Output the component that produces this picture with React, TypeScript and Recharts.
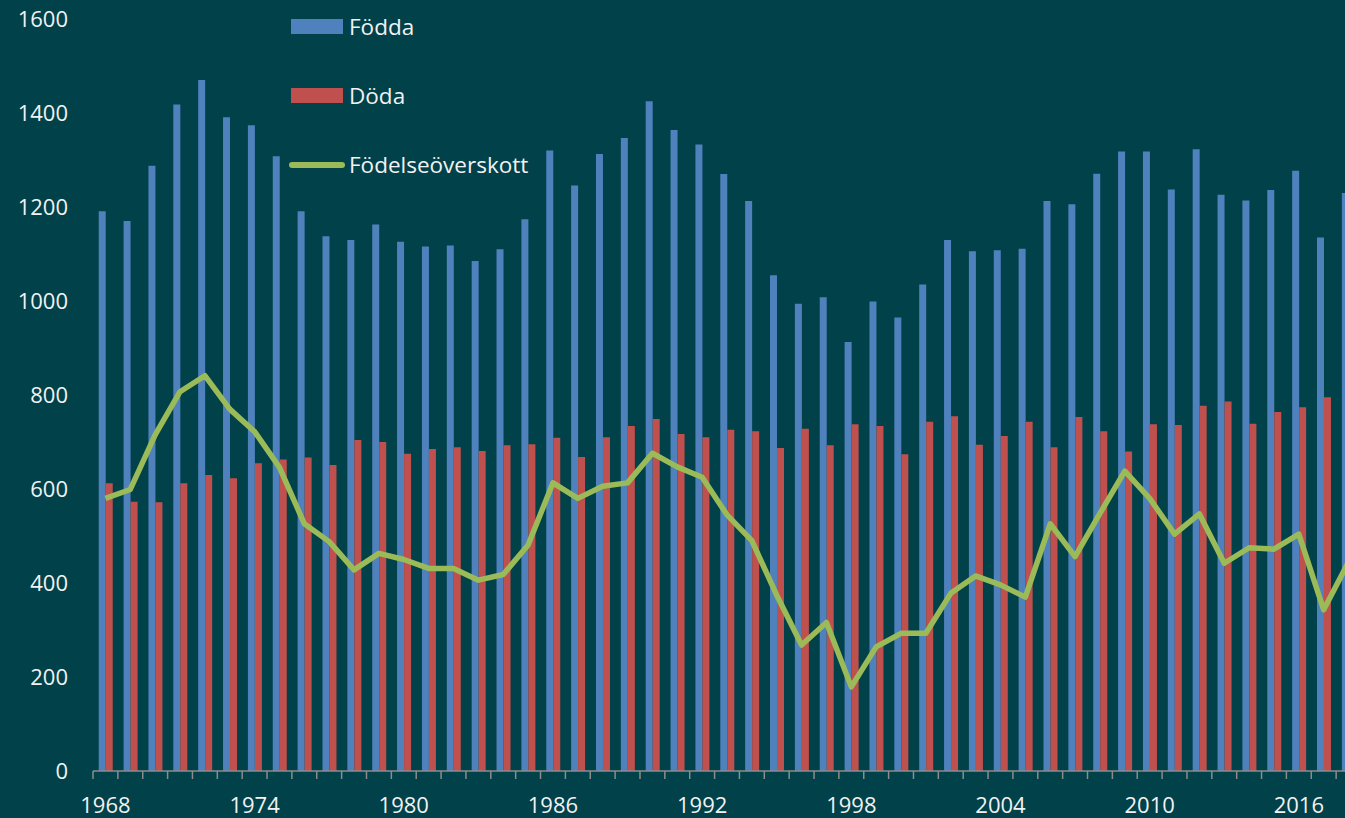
import React from "react";
import { Bar, ComposedChart, Legend, Line, XAxis, YAxis } from "recharts";

const years = [
  "1968", "1969", "1970", "1971", "1972", "1973", "1974", "1975", "1976", "1977",
  "1978", "1979", "1980", "1981", "1982", "1983", "1984", "1985", "1986", "1987",
  "1988", "1989", "1990", "1991", "1992", "1993", "1994", "1995", "1996", "1997",
  "1998", "1999", "2000", "2001", "2002", "2003", "2004", "2005", "2006", "2007",
  "2008", "2009", "2010", "2011", "2012", "2013", "2014", "2015", "2016", "2017",
  "2018",
];

const fodda = [
  1191, 1170, 1288, 1418, 1470, 1391, 1374, 1308, 1191, 1138,
  1130, 1163, 1126, 1116, 1118, 1085, 1110, 1174, 1320, 1246,
  1313, 1347, 1425, 1364, 1333, 1270, 1213, 1055, 994, 1008,
  913, 999, 965, 1035, 1130, 1106, 1108, 1111, 1213, 1206,
  1271, 1318, 1318, 1237, 1323, 1226, 1214, 1236, 1277, 1135,
  1230,
];

const doda = [
  612, 573, 572, 612, 630, 623, 655, 663, 667, 651,
  704, 700, 675, 685, 689, 681, 693, 695, 709, 668,
  710, 734, 749, 717, 710, 726, 723, 687, 728, 693,
  738, 734, 674, 743, 755, 694, 713, 743, 689, 753,
  723, 680, 738, 736, 777, 786, 739, 764, 774, 795,
  790,
];

const overskott = [
  580, 599, 715, 807, 841, 770, 722, 646, 526, 488,
  428, 463, 450, 431, 431, 406, 418, 481, 613, 580,
  606, 613, 676, 647, 625, 545, 490, 374, 268, 316,
  179, 264, 293, 293, 378, 415, 396, 370, 526, 456,
  548, 638, 580, 504, 547, 442, 475, 472, 504, 343,
  445,
];

const yTicks = [0, 200, 400, 600, 800, 1000, 1200, 1400, 1600];
const seriesNames = ["Födda", "Döda", "Födelseöverskott"];

const data = years.map((year, i) => ({
  year,
  fodda: fodda[i],
  doda: doda[i],
  overskott: overskott[i],
}));

const BG = "#00414A";
const TEXT = "#F2F2F2";
const FONT = "'Open Sans', sans-serif";

const XTick = (props: any) => {
  const { x, y, payload, index } = props;
  const half = payload && payload.offset ? payload.offset : 12.43;
  const left = x - half;
  return (
    <g>
      <line x1={left} y1={y} x2={left} y2={y + 8} stroke="#8C8C8C" strokeWidth={1.5} />
      {index % 6 === 0 && (
        <text x={x} y={y + 42} textAnchor="middle" fill={TEXT} fontSize={22} fontFamily={FONT}>
          {payload.value}
        </text>
      )}
    </g>
  );
};

const LegendContent = (props: any) => {
  const items = [...(props.payload || [])].sort(
    (a: any, b: any) => seriesNames.indexOf(a.value) - seriesNames.indexOf(b.value)
  );
  const tops = [19, 88, 157];
  return (
    <div style={{ position: "relative", width: 280, height: 180, fontFamily: FONT }}>
      {items.map((entry: any, i: number) => (
        <div
          key={entry.value}
          style={{
            position: "absolute",
            left: 0,
            top: tops[i] - 8,
            height: 31,
            display: "flex",
            alignItems: "center",
            whiteSpace: "nowrap",
          }}
        >
          {entry.type === "line" ? (
            <div style={{ width: 56, height: 6, borderRadius: 3, background: entry.color }} />
          ) : (
            <div style={{ width: 52, height: 15, margin: "0 2px", background: entry.color }} />
          )}
          <span style={{ color: TEXT, fontSize: 22.5, marginLeft: 4 }}>{entry.value}</span>
        </div>
      ))}
    </div>
  );
};

export default function App() {
  return (
    <div
      style={{
        position: "fixed",
        left: 0,
        top: 0,
        width: 1345,
        height: 818,
        overflow: "hidden",
        background: BG,
      }}
    >
      <ComposedChart
        width={1361}
        height={818}
        data={data}
        margin={{ top: 19, right: 0, left: 0, bottom: 0 }}
        barCategoryGap="23%"
        barGap={0}
      >
        <XAxis
          dataKey="year"
          height={47}
          interval={0}
          tickSize={0}
          tickMargin={0}
          tickLine={false}
          axisLine={{ stroke: "#8C8C8C", strokeWidth: 1.5 }}
          tick={<XTick />}
        />
        <YAxis
          width={93}
          domain={[0, 1600]}
          ticks={yTicks}
          interval={0}
          axisLine={false}
          tickLine={false}
          tickSize={0}
          tickMargin={25}
          tick={{ fill: TEXT, fontSize: 22, fontFamily: FONT }}
        />
        <Legend
          layout="vertical"
          verticalAlign="middle"
          align="center"
          content={<LegendContent />}
          wrapperStyle={{ position: "absolute", left: 289, top: 0, width: 280, height: 180 }}
        />
        <Bar dataKey="fodda" name="Födda" fill="#4F81BD" isAnimationActive={false} />
        <Bar dataKey="doda" name="Döda" fill="#C0504D" isAnimationActive={false} />
        <Line
          dataKey="overskott"
          name="Födelseöverskott"
          type="linear"
          stroke="#9BBB59"
          strokeWidth={5.5}
          strokeLinejoin="round"
          dot={false}
          isAnimationActive={false}
        />
      </ComposedChart>
    </div>
  );
}
